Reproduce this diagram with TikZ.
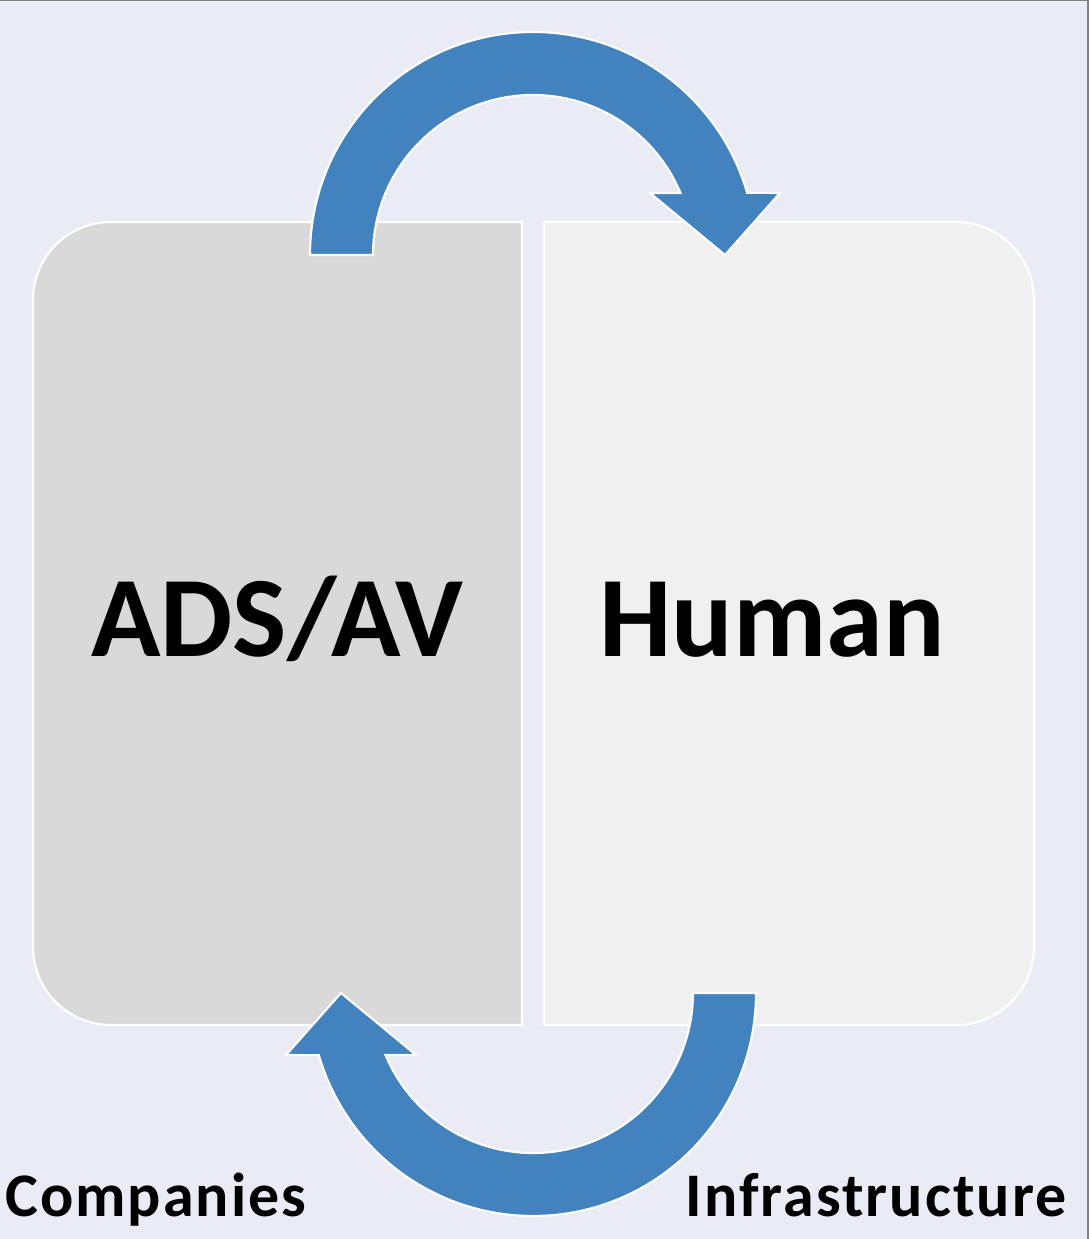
\documentclass[tikz,border=0pt]{standalone}
\usepackage{fontspec}
\setmainfont{Carlito}
\newfontfamily\sidefont[LetterSpace=3.3]{Carlito}
\definecolor{pagebg}{HTML}{E9ECF5}
\definecolor{leftfill}{HTML}{D9D9D9}
\definecolor{rightfill}{HTML}{F0F0F0}
\definecolor{arrowblue}{HTML}{4282BE}
\definecolor{framegray}{HTML}{808080}
\begin{document}
\begin{tikzpicture}[x=0.75pt,y=0.75pt,
  panel/.style={draw=white,line width=1.6pt},
  cyclearrow/.style={fill=arrowblue,draw=white,line width=1.6pt,line join=miter},
  bigtext/.style={font=\bfseries\fontsize{86}{90}\selectfont,inner sep=0pt,anchor=base},
  sidetext/.style={font=\sidefont\bfseries\fontsize{46.5}{50}\selectfont,inner sep=0pt}]
\useasboundingbox (0,0) rectangle (1089,1239);
\fill[pagebg] (0,0) rectangle (1089,1239);
\draw[framegray,line width=1.5pt] (0,1238.5) -- (1088.2,1238.5) -- (1088.2,0);

% the two panels, rounded on their outer sides
\draw[panel,fill=leftfill] (522,214) -- (111,214)
  arc[start angle=270,end angle=180,radius=78] -- (33,939)
  arc[start angle=180,end angle=90,radius=78] -- (522,1017) -- cycle;
\draw[panel,fill=rightfill] (544,214) -- (956,214)
  arc[start angle=-90,end angle=0,radius=78] -- (1034,939)
  arc[start angle=0,end angle=90,radius=78] -- (544,1017) -- cycle;

\node[bigtext] (ads) at (277,582) {ADS/AV};
\node[bigtext] (human) at (772,582) {Human};

% circular arrow over the top, and its copy turned half a turn below
\newcommand{\loopshape}{(310,984) arc[start angle=180,end angle=16.2,radius=223]
  -- (780,1046) -- (725,984) -- (650,1046) -- (680.5,1046)
  arc[start angle=22.8,end angle=180,radius=160] -- cycle}
\draw[cyclearrow] \loopshape;
\begin{scope}[rotate around={180:(533,615)}]
\draw[cyclearrow] \loopshape;
\end{scope}

\node[sidetext,anchor=base west] (companies) at (5,22) {Companies};
\node[sidetext,anchor=base east] (infra) at (1067,22) {Infrastructure};
\end{tikzpicture}
\end{document}
